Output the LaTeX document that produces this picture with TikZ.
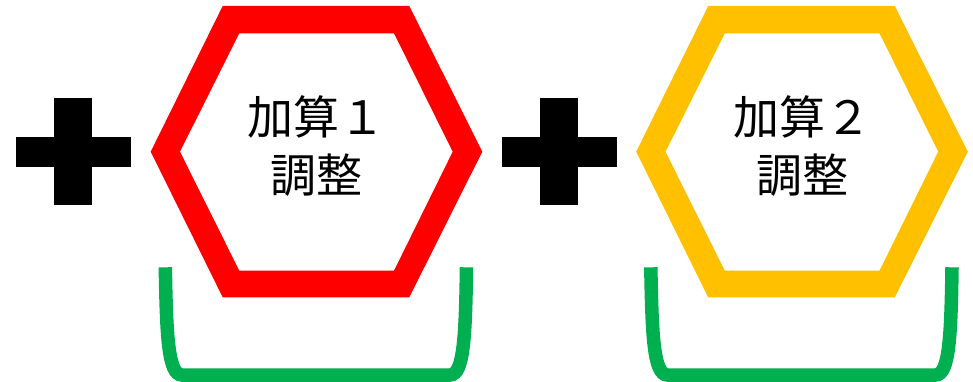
\documentclass[tikz,border=0pt]{standalone}
\usepackage{fontspec}
\newfontfamily\cjk{Noto Sans CJK JP}
\usepackage{tikz}
\usetikzlibrary{positioning}
\definecolor{hexred}{HTML}{FF0000}
\definecolor{hexgold}{HTML}{FFC000}
\definecolor{traygreen}{HTML}{00B050}

\begin{document}
\begin{tikzpicture}[x=1pt,y=-1pt,
	sumlabel/.style={align=center,inner sep=0pt,font=\cjk\fontsize{46}{58}\selectfont}]
	
		\useasboundingbox (0,0) rectangle (973,382);
		
		\foreach \i/\num/\col/\dx in {1/１/hexred/0,2/２/hexgold/485.5}
		{
			% plus
			\fill[black] (16+\dx,137) rectangle (131+\dx,167);
			\fill[black] (54+\dx,98) rectangle (92+\dx,205);
			% hexagon ring
			\fill[\col,even odd rule]
				(222.7+\dx,6) -- (409.3+\dx,6) -- (482.3+\dx,151.7) -- (409.3+\dx,297.3) -- (222.7+\dx,297.3) -- (150.7+\dx,151.7) -- cycle
				(239.3+\dx,33.3) -- (394+\dx,33.3) -- (452.7+\dx,151.7) -- (394+\dx,270.7) -- (239.3+\dx,270.7) -- (180+\dx,151.7) -- cycle;
			\node[sumlabel] (sum\i) at (316.5+\dx,146) {加算\num\\調整};
			% tray
			\draw[traygreen,line width=13.5pt]
				(165.3+\dx,267.3) .. controls (166.5+\dx,335) and (168+\dx,375) .. (182+\dx,375)
				-- (450+\dx,375) .. controls (464+\dx,375) and (465.5+\dx,335) .. (466.5+\dx,267.3);
		}
		
\end{tikzpicture}
\end{document}
